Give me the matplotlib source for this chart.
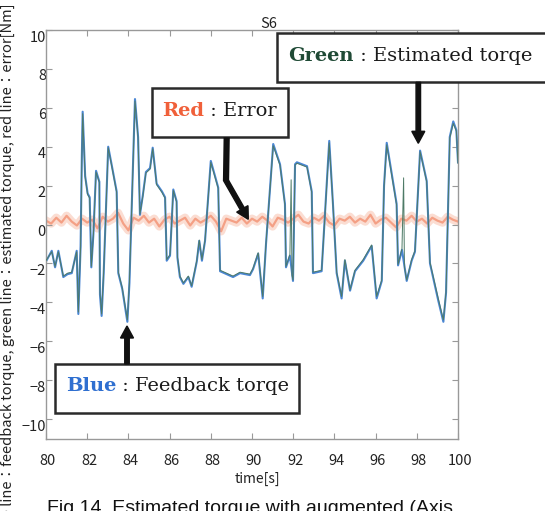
import numpy as np
import matplotlib
matplotlib.use('Agg')
import matplotlib.pyplot as plt
import matplotlib.transforms as mtrans
from matplotlib.patches import Rectangle, FancyArrow
from matplotlib.lines import Line2D

plt.rcParams['font.family'] = ['Noto Sans CJK JP', 'DejaVu Sans']

# ---------------- data ----------------
fb_time = [80.0, 80.28, 80.44, 80.6, 80.84, 81.05, 81.25, 81.49, 81.57, 81.68,
           81.74, 81.78, 81.9, 82.02, 82.12, 82.2, 82.3, 82.43, 82.59, 82.62,
           82.7, 82.8, 83.02, 83.2, 83.43, 83.51, 83.7, 83.95, 84.05, 84.32,
           84.47, 84.56, 84.7, 84.85, 85.05, 85.18, 85.37, 85.63, 85.78, 85.86,
           86.02, 86.18, 86.34, 86.38, 86.5, 86.67, 86.91, 87.07, 87.32, 87.44,
           87.57, 87.72, 88.0, 88.36, 88.45, 89.08, 89.42, 89.9, 90.05, 90.3,
           90.52, 90.68, 91.03, 91.36, 91.6, 91.65, 91.84, 91.99, 92.09, 92.18,
           92.67, 92.9, 92.96, 93.38, 93.54, 93.75, 93.93, 94.11, 94.35, 94.51,
           94.76, 95.0, 95.4, 95.81, 96.05, 96.3, 96.41, 96.54, 97.02, 97.09,
           97.28, 97.51, 97.75, 97.91, 98.16, 98.48, 98.64, 99.04, 99.29, 99.42,
           99.6, 99.77, 99.92, 100.0]
fb_torque = [-1.9, -1.35, -2.2, -1.35, -2.7, -2.55, -2.5, -1.35, -4.6, -1.1,
             3.5, 5.8, 2.5, 1.6, 1.4, -2.2, -0.5, 2.76, 2.2, -3.6,
             -4.7, -2.5, 4.0, 3.0, 1.7, -2.5, -3.3, -5.0, -3.0, 6.45,
             4.5, 0.5, 1.5, 2.7, 2.9, 3.95, 2.1, 1.7, 1.4, -1.86,
             -1.6, 1.8, 1.2, -1.7, -2.7, -3.05, -2.7, -3.2, -1.9, -0.84,
             -1.86, -0.84, 3.27, 1.9, -2.4, -2.7, -2.5, -2.6, -2.3, -1.5,
             -3.8, -1.0, 4.14, 3.1, 1.06, -2.2, -1.6, -2.9, 3.1, 3.2,
             3.0, 1.7, -2.5, -2.4, 0.5, 4.3, 1.06, -2.5, -3.8, -1.86,
             -3.4, -2.4, -1.86, -1.1, -3.8, -2.9, 2.0, 4.2, 1.06, -2.1,
             -1.3, -2.9, -1.86, -1.4, 3.8, 2.24, -2.0, -3.9, -5.0, -3.5,
             4.5, 5.3, 4.85, 3.2]

est_time = [80.0, 80.28, 80.44, 80.6, 80.84, 81.05, 81.25, 81.49, 81.57, 81.68,
            81.74, 81.78, 81.9, 82.02, 82.12, 82.2, 82.3, 82.43, 82.59, 82.62,
            82.7, 82.8, 83.02, 83.2, 83.43, 83.51, 83.7, 83.95, 84.05, 84.32,
            84.47, 84.56, 84.7, 84.85, 85.05, 85.18, 85.37, 85.63, 85.78, 85.86,
            86.02, 86.18, 86.34, 86.38, 86.5, 86.67, 86.91, 87.07, 87.32, 87.44,
            87.57, 87.72, 88.0, 88.36, 88.45, 89.08, 89.42, 89.9, 90.05, 90.3,
            90.52, 90.68, 91.03, 91.36, 91.6, 91.65, 91.84, 91.9, 91.94, 91.99,
            92.09, 92.18, 92.67, 92.9, 92.96, 93.38, 93.54, 93.75, 93.93, 94.11,
            94.35, 94.51, 94.76, 95.0, 95.4, 95.81, 96.05, 96.3, 96.41, 96.54,
            97.02, 97.09, 97.28, 97.36, 97.4, 97.51, 97.75, 97.91, 98.16, 98.48,
            98.64, 99.04, 99.29, 99.42, 99.6, 99.77, 99.92, 100.0]
est_torque = [-1.85, -1.4, -2.15, -1.4, -2.65, -2.5, -2.45, -1.4, -4.5, -1.15,
              3.4, 5.7, 2.45, 1.55, 1.35, -2.15, -0.55, 2.7, 2.15, -3.5,
              -4.6, -2.45, 3.95, 2.95, 1.65, -2.45, -3.25, -4.9, -2.95, 6.35,
              4.45, 0.55, 1.45, 2.65, 2.85, 3.9, 2.05, 1.65, 1.35, -1.8,
              -1.55, 1.75, 1.15, -1.65, -2.65, -3.0, -2.65, -3.15, -1.85, -0.8,
              -1.8, -0.8, 3.2, 1.85, -2.35, -2.65, -2.45, -2.55, -2.25, -1.45,
              -3.7, -0.95, 4.05, 3.05, 1.0, -2.15, -1.55, 2.3, -2.6, -2.85,
              3.05, 3.15, 2.95, 1.65, -2.45, -2.35, 0.45, 4.2, 1.0, -2.45,
              -3.7, -1.8, -3.35, -2.35, -1.8, -1.05, -3.7, -2.85, 1.95, 4.1,
              1.0, -2.05, -1.25, 2.4, -2.2, -2.85, -1.8, -1.35, 3.75, 2.2,
              -1.95, -3.8, -4.9, -3.45, 4.45, 5.2, 4.8, 3.15]

err_vals = [0.2, 0.05, 0.35, 0.1, 0.45, 0.15, -0.05, 0.3, 0.1, 0.25,
            -0.2, 0.4, 0.15, 0.3, 0.6, 0.05, -0.3, 0.35, 0.2, 0.45,
            0.1, 0.3, -0.1, 0.25, 0.4, 0.05, 0.2, 0.35, -0.05, 0.3,
            0.1, 0.25, 0.45, 0.15, -0.35, 0.3, 0.2, 0.1, 0.35, 0.05,
            0.3, 0.15, 0.4, 0.2, -0.1, 0.35, 0.25, 0.1, 0.3, 0.5,
            0.15, 0.05, 0.35, 0.2, 0.45, 0.1, -0.05, 0.3, 0.2, 0.4,
            0.1, 0.3, 0.15, 0.5, 0.05, 0.25, 0.35, 0.1, -0.15, 0.3,
            0.2, 0.45, 0.15, 0.3, 0.05, 0.35, 0.2, 0.1, 0.4, 0.25,
            0.15]
err_time = np.linspace(80, 100, len(err_vals))

x_ticks = [80, 82, 84, 86, 88, 90, 92, 94, 96, 98, 100]
y_ticks = [-10, -8, -6, -4, -2, 0, 2, 4, 6, 8, 10]

title = "S6"
xlabel = "time[s]"
ylabel = "Blue line\uff1afeedback torque, green line\uff1aestimated torque, red line\uff1aerror[Nm]"
caption = "Fig.14  Estimated torque with augmented (Axis"

# ---------------- figure ----------------
W, H = 545, 511
fig = plt.figure(figsize=(W / 100, H / 100), dpi=100)
fig.patch.set_facecolor('white')
T = mtrans.Affine2D().scale(1 / W, -1 / H).translate(0, 1) + fig.transFigure

ax = fig.add_axes([46 / W, 1 - 438.5 / H, (458 - 46) / W, (438.5 - 30) / H])
ax.plot(err_time, err_vals, color='#f7b49c', lw=6, alpha=0.45, zorder=1)
ax.plot(err_time, err_vals, color='#f28c6c', lw=1.6, alpha=0.75, zorder=1)
ax.plot(fb_time, fb_torque, color='#4a86d4', lw=1.5, zorder=2)
ax.plot(est_time, est_torque, color='#4d7a66', lw=0.7, zorder=3)
ax.set_xlim(80, 100)
ax.set_ylim(-11, 10)
ax.set_xticks(x_ticks)
ax.set_yticks(y_ticks)
ax.tick_params(direction='in', length=4, color='#999999', top=True, right=True,
               labelsize=10.5, labelcolor='#222222')
ax.tick_params(axis='x', pad=11)
ax.tick_params(axis='y', pad=0)
for s in ax.spines.values():
    s.set_color('#999999')
    s.set_linewidth(1)
for lbl in ax.get_yticklabels():
    lbl.set_transform(lbl.get_transform() + mtrans.ScaledTranslation(0, -0.06, fig.dpi_scale_trans))
for lbl in ax.get_xticklabels():
    lbl.set_transform(lbl.get_transform() + mtrans.ScaledTranslation(0.02, 0, fig.dpi_scale_trans))

fig.text(269, 24, title, transform=T, ha='center', va='center', fontsize=10.5, color='#222')
fig.text(257, 479, xlabel, transform=T, ha='center', va='center', fontsize=10, color='#222')
fig.text(7.5, 3, ylabel, transform=T, ha='center', va='top', rotation=90,
         fontsize=10.5, color='#222')
fig.text(47, 513, caption, transform=T, ha='left', va='baseline', fontsize=14,
         family=['Liberation Sans'], color='#111')

# ---------------- annotation boxes ----------------
def box(x0, y0, x1, y1):
    r = Rectangle((x0, y0), x1 - x0, y1 - y0, transform=T, facecolor='white',
                  edgecolor='#2a2a2a', lw=1.8, zorder=5)
    fig.add_artist(r)

def label(x, y, word, color, rest, fs):
    t1 = fig.text(x, y, word, transform=T, ha='left', va='center', fontsize=fs,
                  family='DejaVu Serif', color=color, weight='bold', zorder=6)
    fig.canvas.draw()
    bb = t1.get_window_extent()
    fig.text(bb.x1, y, rest, transform=T, ha='left', va='center',
             fontsize=fs, family='DejaVu Serif', color='#1a1a1a', zorder=6)

def arrow(x0, y0, x1, y1):
    a = FancyArrow(x0, y0, x1 - x0, y1 - y0, width=4.5, head_width=13, head_length=12,
                   length_includes_head=True, color='#111111', transform=T, zorder=6)
    fig.add_artist(a)

box(277, 33, 560, 82.3)
label(288, 56, 'Green', '#1f4a35', ' : Estimated torqe', 14)
arrow(418.3, 82.3, 418.3, 143.3)

box(151.7, 88.3, 288.3, 137.3)
label(161.7, 111, 'Red', '#f0603a', ' : Error', 14)
fig.add_artist(Line2D([226.7, 226.0], [137.3, 181], transform=T, color='#111111', lw=4.5,
                      solid_capstyle='butt', zorder=6))
arrow(225.5, 179.5, 248.3, 219.3)

box(55, 364, 299.3, 412.7)
label(66, 386, 'Blue', '#2f6fd0', ' : Feedback torqe', 14)
arrow(127, 364, 127, 326)

fig.savefig('out.png', dpi=100, facecolor='white')
